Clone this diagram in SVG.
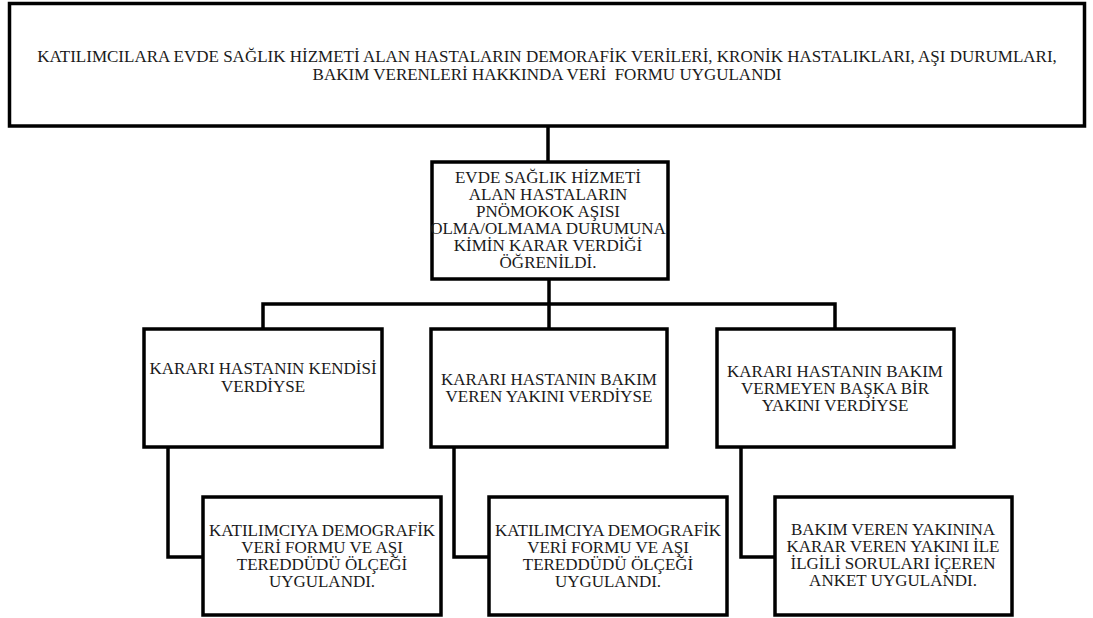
<svg xmlns="http://www.w3.org/2000/svg" width="1093" height="618" viewBox="0 0 1093 618">
<style>
.box{fill:#fff;stroke:#000;stroke-width:3.5}
.t{font-family:"Liberation Serif","Times New Roman",serif;font-size:17px;fill:#1a1a1a;text-anchor:middle}
.c{fill:none;stroke:#000;stroke-width:3.5;stroke-linejoin:miter}
</style>
<rect width="1093" height="618" fill="#fff"/>
<g id="connectors">
<path class="c" d="M548,127 V162"/>
<path class="c" d="M549,279 V329"/>
<path class="c" d="M263,329 V304 H835 V329"/>
<path class="c" d="M168,447 V557 H203"/>
<path class="c" d="M454,447 V557 H489"/>
<path class="c" d="M741,447 V557 H775"/>
</g>
<g id="n-top">
<rect class="box" x="9.5" y="3.5" width="1075" height="122.5"/>
<text class="t" xml:space="preserve"><tspan x="547" y="62">KATILIMCILARA EVDE SAĞLIK HİZMETİ ALAN HASTALARIN DEMORAFİK VERİLERİ, KRONİK HASTALIKLARI, AŞI DURUMLARI,</tspan><tspan x="547" y="80">BAKIM VERENLERİ HAKKINDA VERİ  FORMU UYGULANDI</tspan></text>
</g>
<g id="n-decision">
<rect class="box" x="432" y="162" width="236" height="117"/>
<text class="t"><tspan x="548" y="183">EVDE SAĞLIK HİZMETİ</tspan><tspan x="548" y="200">ALAN HASTALARIN</tspan><tspan x="548" y="217">PNÖMOKOK AŞISI</tspan><tspan x="548" y="234">OLMA/OLMAMA DURUMUNA</tspan><tspan x="548" y="251">KİMİN KARAR VERDİĞİ</tspan><tspan x="548" y="268">ÖĞRENİLDİ.</tspan></text>
</g>
<g id="n-self">
<rect class="box" x="144" y="329" width="238" height="118"/>
<text class="t"><tspan x="263" y="374">KARARI HASTANIN KENDİSİ</tspan><tspan x="263" y="392">VERDİYSE</tspan></text>
</g>
<g id="n-carer">
<rect class="box" x="431" y="329" width="236" height="118"/>
<text class="t"><tspan x="549" y="385">KARARI HASTANIN BAKIM</tspan><tspan x="549" y="402">VEREN YAKINI VERDİYSE</tspan></text>
</g>
<g id="n-other">
<rect class="box" x="717" y="329" width="237" height="118"/>
<text class="t"><tspan x="835" y="377">KARARI HASTANIN BAKIM</tspan><tspan x="835" y="394">VERMEYEN BAŞKA BİR</tspan><tspan x="835" y="411">YAKINI VERDİYSE</tspan></text>
</g>
<g id="n-self-out">
<rect class="box" x="203" y="497" width="238" height="118"/>
<text class="t"><tspan x="322" y="536">KATILIMCIYA DEMOGRAFİK</tspan><tspan x="322" y="553">VERİ FORMU VE AŞI</tspan><tspan x="322" y="570">TEREDDÜDÜ ÖLÇEĞİ</tspan><tspan x="322" y="587">UYGULANDI.</tspan></text>
</g>
<g id="n-carer-out">
<rect class="box" x="489" y="497" width="238" height="118"/>
<text class="t"><tspan x="608" y="536">KATILIMCIYA DEMOGRAFİK</tspan><tspan x="608" y="553">VERİ FORMU VE AŞI</tspan><tspan x="608" y="570">TEREDDÜDÜ ÖLÇEĞİ</tspan><tspan x="608" y="587">UYGULANDI.</tspan></text>
</g>
<g id="n-other-out">
<rect class="box" x="775" y="497" width="237" height="118"/>
<text class="t"><tspan x="893" y="535">BAKIM VEREN YAKININA</tspan><tspan x="893" y="552">KARAR VEREN YAKINI İLE</tspan><tspan x="893" y="569">İLGİLİ SORULARI İÇEREN</tspan><tspan x="893" y="586">ANKET UYGULANDI.</tspan></text>
</g>
</svg>
